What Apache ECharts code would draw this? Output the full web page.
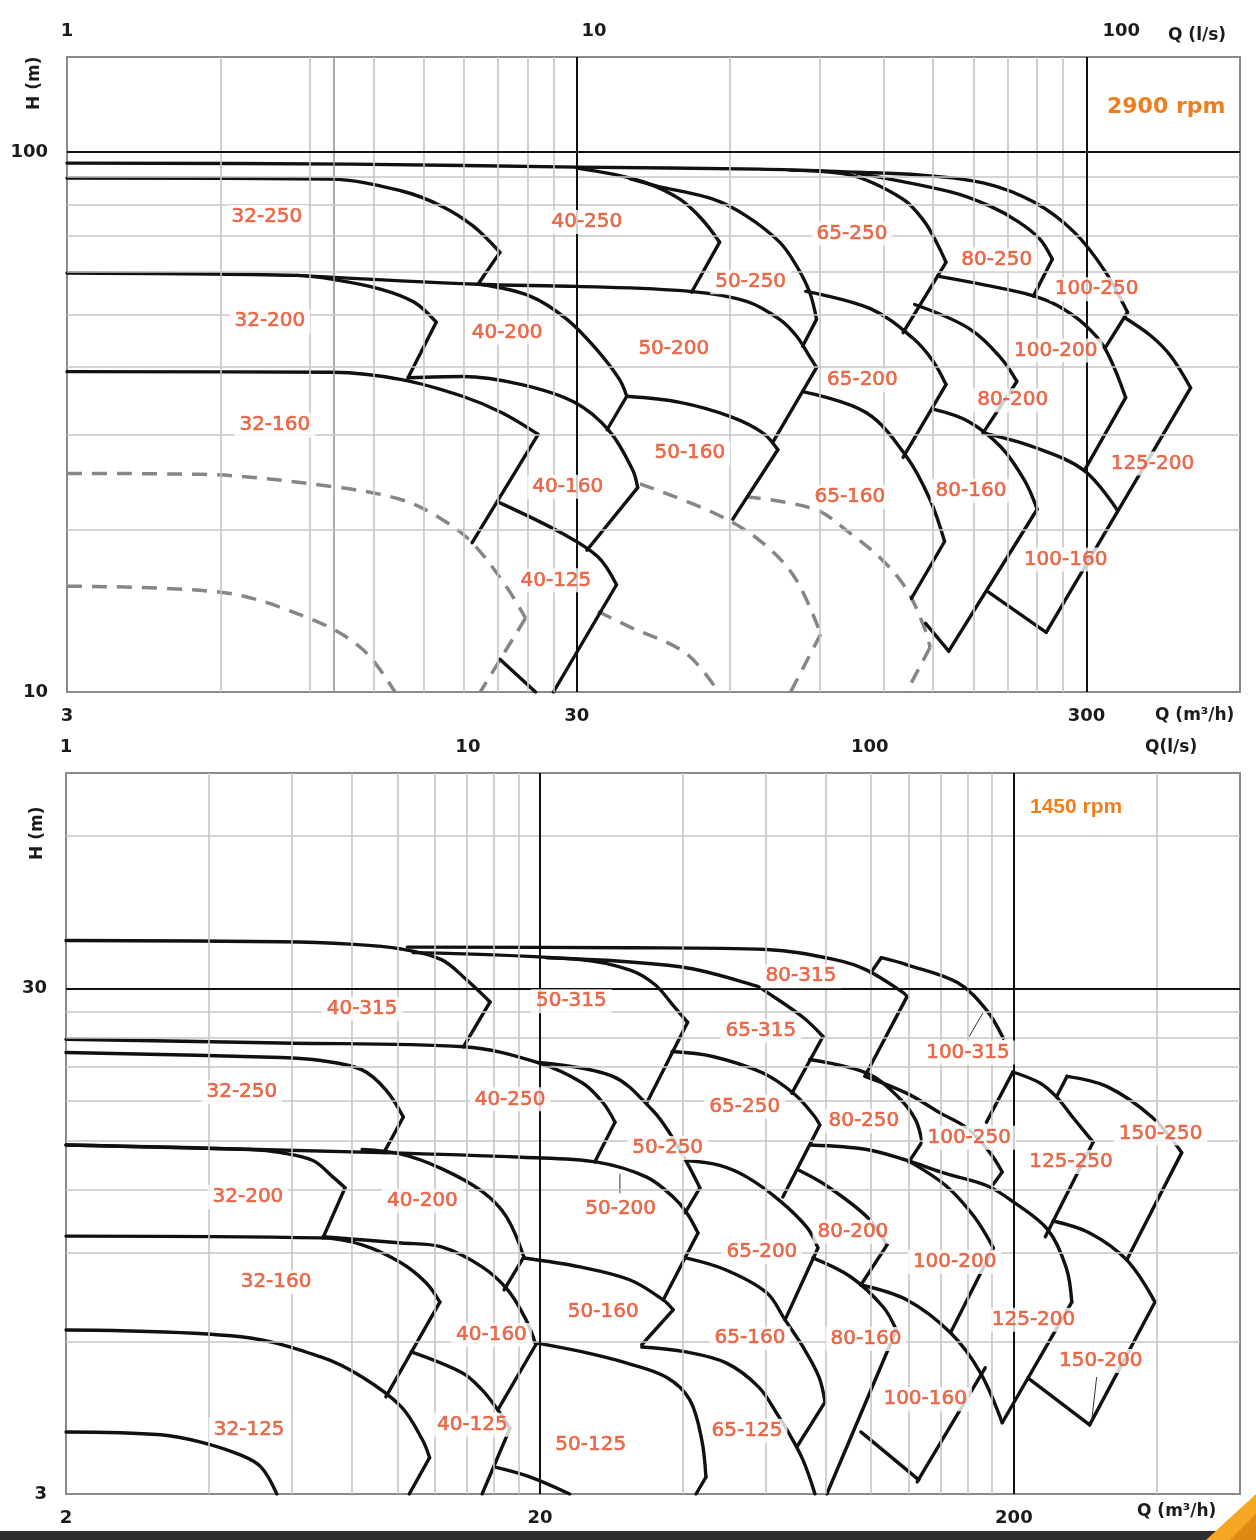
<!DOCTYPE html>
<html><head><meta charset="utf-8">
<script src="https://cdn.jsdelivr.net/npm/echarts@6/dist/echarts.min.js"></script>
<style>html,body{margin:0;padding:0;background:#fff}#c{width:1256px;height:1540px}</style>
</head><body><div id="c"></div>
<script>
// ===== Axis ticks / gridlines =====
const topGridQ = [6, 9, 10, 12, 15, 18, 21, 24, 27, 60, 90, 120, 150, 180, 210, 240, 270];
const topMajorQ = [30, 300];
const topGridH = [20, 30, 40, 50, 60, 70, 80, 90];
const topMajorH = [100];
const botGridQ = [4, 6, 8, 10, 12, 14, 16, 18, 40, 60, 80, 100, 120, 140, 160, 180, 400];
const botMajorQ = [20, 200];
const botGridH = [6, 9, 12, 15, 18, 21, 24, 27, 60];
const botMajorH = [30];

// ===== TOP PANEL (2900 rpm) curves [Q m3/h, H m] =====
const t_100_250 = [[3,95.4],[10.8,95.0],[30,93.8],[68.5,93.0],[106,91.8],[141,90.7],[189,87.6],[237,80.7],[284,71.0],[326,60.2],[361,50.5]];
const t_32_250 = [[3,89.5],[9.84,89.1],[13.6,84.7],[16.3,79.4],[18.8,72.9],[21.2,65.2]];
const t_40_250 = [[30,93.4],[35.3,91.0],[41.2,87.6],[47.8,81.8],[52.8,75.1],[57.2,68.1]];
const t_50_250 = [[38.1,89.3],[43.1,86.5],[55.5,81.8],[64.6,76.1],[75.0,68.1],[81.0,61.5],[85.9,55.0],[88.6,49.0]];
const t_65_250 = [[78.5,92.6],[103,90.7],[131,81.8],[144,74.5],[153,67.5],[159,62.5]];
const t_80_250 = [[106,91.4],[163,84.3],[194,79.4],[221,74.2],[243,69.0],[257,63.3]];
const t_32_200 = [[3,59.7],[8.47,59.1],[9.97,58.1],[12.4,55.7],[14.4,52.7],[15.9,48.4]];
const t_50_200 = [[8.47,59.1],[19.2,56.9],[30,56.4],[50.0,55.2],[64.6,52.9],[75.0,49.0],[81.0,45.6],[85.9,41.8],[88.6,39.9]];
const t_40_200 = [[19.4,56.9],[24.3,54.1],[28.7,49.0],[32.8,43.1],[36.4,37.9],[37.6,35.3]];
const t_65_200 = [[84.4,55.2],[113,51.3],[137,45.2],[150,41.0],[159,37.1]];
const t_80_200 = [[138,52.2],[176,47.2],[204,41.5],[219,37.6]];
const t_100_200 = [[153,58.9],[190,56.7],[234,54.3],[263,52.0],[297,48.0],[326,43.3],[358,35.1]];
const t_125_200 = [[356,49.4],[401,45.7],[438,42.0],[480,36.6]];
const t_32_160 = [[3,39.2],[9.97,39.1],[13.6,37.9],[17.9,35.3],[21.4,32.9],[25.2,30.0]];
const t_40_160 = [[14.0,38.2],[17.9,38.4],[23.4,37.1],[29.7,34.4],[34.8,30.4],[38.6,25.8],[39.5,23.9]];
const t_50_160 = [[37.6,35.3],[47.8,34.4],[59.9,32.4],[69.5,30.2],[74.4,28.1]];
const t_65_160 = [[83.2,36.0],[111,32.9],[133,27.3],[148,22.7],[158,19.0]];
const t_80_160 = [[150,33.4],[176,31.7],[204,28.4],[227,24.6],[240,21.8]];
const t_100_160 = [[188,30.2],[237,28.4],[297,25.7],[345,21.7]];
const t_40_125 = [[21.2,22.4],[28.0,19.7],[33.0,17.8],[35.9,15.8]];
const t_edges = [
  [[361,50.5],[326,43.3]], [[21.2,65.2],[19.2,56.9]], [[57.2,68.1],[50.4,55.0]],
  [[88.6,49.0],[83.2,43.7]], [[159,62.5],[131,46.3]], [[257,63.3],[236,54.1]],
  [[15.9,48.4],[14.0,38.2]], [[88.6,39.9],[72.7,29.0]], [[37.6,35.3],[34.4,30.6]],
  [[159,37.1],[131,27.2]], [[219,37.6],[188,30.2]], [[358,35.1],[297,25.7]],
  [[480,36.6],[250,12.9]], [[25.2,30.0],[18.7,18.9]], [[39.5,23.9],[31.4,18.3]],
  [[74.4,28.1],[60.7,20.9]], [[158,19.0],[136,14.9]], [[240,21.8],[161,11.9]],
  [[145,13.4],[161,11.9]], [[193,15.3],[250,12.9]], [[35.9,15.8],[27.0,10]],
  [[21.2,11.5],[24.9,10]]
];
const t_dash1 = [[3,25.4],[5.49,25.3],[9.97,24.0],[13.6,22.7],[16.3,20.9],[18.7,18.9],[21.8,15.7],[23.8,13.7]];
const t_dash2 = [[3,15.7],[6.01,15.3],[9.11,13.6],[11.4,12.0],[13.2,10]];
const t_dash3 = [[33.0,14.1],[38.1,13.2],[49.1,11.8],[56.9,10]];
const t_dash4 = [[39.9,24.3],[55.5,21.5],[68.5,19.1],[80.3,16.3],[90.3,12.8]];
const t_dash5 = [[64.4,23.0],[87.9,21.8],[103,19.7],[119,17.6],[133,15.5],[144,13.2],[148,12.1]];
const t_dashEdges = [[[23.8,13.7],[19.4,10]], [[90.3,12.8],[78.8,10]], [[148,12.1],[133,10]]];
const topLabels = [
  ['32-250',7.40,75.8],['40-250',31.4,74.2],['65-250',104,70.7],['80-250',200,63.3],['50-250',65.8,57.4],['100-250',314,55.7],
  ['32-200',7.5,48.6],['40-200',21.9,46.3],['50-200',46.5,43.3],['100-200',261,42.9],['65-200',109,37.8],['80-200',215,34.7],
  ['32-160',7.67,31.2],['50-160',50.0,27.7],['125-200',404,26.5],['40-160',28.8,24.0],['65-160',103,23.0],['80-160',178,23.6],
  ['100-160',273,17.6],['40-125',27.3,16.1]
];

// ===== BOTTOM PANEL (1450 rpm) curves [Q m3/h, H m] =====
const b_40_315 = [[2,37.3],[5.68,37.1],[7.95,36.7],[10.2,35.9],[12.4,34.2],[14.0,31.2],[15.7,28.2]];
const b_80_315 = [[10.5,36.2],[31.0,36.1],[60.2,35.8],[83.8,34.2],[97.9,32.6],[117,29.4],[119,28.9]];
const b_50_315 = [[10.8,35.3],[24.3,34.2],[31.0,32.6],[35.0,30.5],[38.4,27.6],[41.0,25.7]];
const b_65_315 = [[20.7,34.5],[39.5,33.1],[57.4,30.3],[60.2,29.5],[71.8,26.3],[79.1,24.1]];
const b_100_315 = [[105,34.5],[119,33.4],[152,30.8],[175,27.2],[190,23.9]];
const b_32_250 = [[2,22.4],[5.68,21.9],[6.90,21.6],[8.43,20.7],[9.46,18.9],[10.3,16.7]];
const b_40_250 = [[2,23.8],[5.68,23.4],[13.8,23.0],[19.8,21.4],[24.6,19.5],[27.2,17.8],[28.8,16.3]];
const b_50_250 = [[19.8,21.4],[28.5,20.1],[34.6,17.2],[37.6,15.5],[40.8,13.6],[43.5,12.1]];
const b_65_250 = [[38.0,22.5],[46.3,22.0],[59.1,20.4],[69.0,18.5],[76.1,16.7],[77.9,16.1]];
const b_80_250 = [[74.2,21.7],[97.9,20.4],[114,18.3],[124,16.5],[128,14.9]];
const b_100_250 = [[97.0,20.1],[119,18.6],[140,17.0],[159,15.9],[178,14.2],[189,13.0]];
const b_125_250 = [[199,20.5],[227,19.5],[246,18.3],[266,16.7],[294,14.9]];
const b_150_250 = [[259,20.1],[314,19.2],[391,16.7],[452,14.2]];
const b_32_200 = [[2,14.7],[4.89,14.4],[5.68,14.2],[6.64,13.7],[7.32,12.7],[7.76,12.1]];
const b_50_200 = [[2,14.7],[9.28,14.2],[18.3,13.9],[26.4,13.6],[33.6,12.7],[38.2,11.6],[40.8,10.8],[43.1,9.85]];
const b_40_200 = [[8.43,14.4],[10.2,14.1],[12.4,13.2],[15.1,11.9],[17.0,10.6],[18.5,8.83]];
const b_65_200 = [[40.8,13.7],[47.9,13.4],[54.7,12.7],[64.2,11.4],[73.2,10.1],[77.2,9.20]];
const b_80_200 = [[70.4,13.1],[80.6,12.2],[97.9,10.6],[108,9.33]];
const b_100_200 = [[121,13.6],[144,12.2],[165,10.6],[181,9.20]];
const b_125_200 = [[74.6,14.7],[97.9,14.4],[119,13.7],[144,12.9],[176,12.2],[198,11.4],[236,9.99],[258,8.4],[265,7.19]];
const b_150_200 = [[242,10.4],[289,9.85],[346,8.71],[397,7.19]];
const b_32_160 = [[2,9.71],[6.90,9.63],[8.43,9.33],[10.2,8.59],[11.5,7.85],[12.3,7.19]];
const b_40_160 = [[6.97,9.68],[10.2,9.41],[12.4,9.24],[15.1,8.44],[17.1,7.60],[18.7,6.63],[19.6,5.92]];
const b_50_160 = [[18.5,8.79],[24.3,8.44],[31.0,7.95],[36.4,7.26],[38.2,6.94]];
const b_65_160 = [[40.6,8.79],[49.4,8.32],[60.2,7.50],[65.8,6.63],[71.8,5.86],[77.6,5.11],[79.9,4.56]];
const b_80_160 = [[75.3,8.79],[90.6,8.06],[106,7.03],[113,6.33]];
const b_100_160 = [[95.1,7.77],[119,7.26],[147,6.25],[170,5.21],[189,4.15]];
const b_32_125 = [[2,6.33],[4.68,6.14],[6.90,5.60],[8.43,5.11],[10.2,4.46],[11.3,3.84],[11.7,3.54]];
const b_40_125 = [[10.7,5.73],[13.7,5.21],[15.1,4.82],[16.3,4.40],[17.3,4.05]];
const b_50_125 = [[19.6,5.97],[24.6,5.73],[30.4,5.45],[36.9,5.11],[41.4,4.61],[43.9,3.84],[44.8,3.24]];
const b_65_125 = [[32.8,5.86],[40.6,5.73],[49.4,5.45],[57.9,4.88],[63.9,4.26],[66.4,4.02],[71.8,3.50],[76.1,3.0]];
const b_32_100 = [[2,3.98],[3.17,3.93],[3.85,3.80],[4.68,3.58],[5.16,3.39],[5.57,3.0]];
const b_40_100 = [[16.1,3.39],[19.1,3.24],[23.1,3.0]];
const b_edges = [
  [[15.7,28.2],[13.8,23.0]], [[119,28.9],[97.0,20.1]], [[41.0,25.7],[33.6,17.8]],
  [[79.1,24.1],[68.0,18.6]], [[99.8,32.2],[105,34.5]], [[10.3,16.7],[9.37,14.2]],
  [[28.8,16.3],[26.1,13.6]], [[43.5,12.1],[40.5,10.8]], [[77.9,16.1],[65.1,11.6]],
  [[128,14.9],[120,13.6]], [[189,13.0],[181,12.3]], [[175,16.3],[199,20.5]],
  [[294,14.9],[233,9.68]], [[246,18.3],[259,20.1]], [[452,14.2],[346,8.71]],
  [[7.76,12.1],[6.97,9.63]], [[43.1,9.85],[36.4,7.26]], [[18.5,8.83],[16.8,7.60]],
  [[77.2,9.20],[65.8,6.63]], [[108,9.33],[95.1,7.77]], [[181,9.20],[147,6.25]],
  [[265,7.19],[189,4.15]], [[397,7.19],[289,4.11]], [[214,5.09],[289,4.11]],
  [[12.3,7.19],[9.46,4.67]], [[19.6,5.92],[16.3,4.40]], [[38.2,6.94],[32.8,5.92]],
  [[79.9,4.56],[69.7,3.72]], [[113,6.33],[80.6,3.0]], [[174,5.33],[125,3.17]],
  [[95.1,3.98],[126,3.20]], [[11.7,3.54],[10.6,3.0]], [[17.3,4.05],[15.1,3.0]],
  [[44.8,3.24],[42.7,3.0]]
];
const b_leaders = [[[172,26.8],[161,24.1]], [[29.5,12.9],[29.5,11.8]], [[299,5.11],[292,4.20]]];
const botLabels = [
  ['40-315',8.43,27.3],['50-315',23.3,28.3],['80-315',71.1,31.7],['65-315',58.5,24.7],['100-315',160,22.4],
  ['32-250',4.70,18.7],['40-250',17.3,18.1],['65-250',54.1,17.5],['80-250',96.5,16.4],['100-250',161,15.2],
  ['150-250',408,15.5],['125-250',264,13.6],['50-250',37.2,14.5],
  ['32-200',4.84,11.6],['40-200',11.3,11.4],['50-200',29.6,11.0],['80-200',91.5,9.90],['65-200',58.8,9.03],['100-200',150,8.63],
  ['32-160',5.55,7.88],['50-160',27.2,6.87],['125-200',220,6.63],['40-160',15.8,6.19],['65-160',55.5,6.10],['80-160',97.5,6.08],
  ['150-200',305,5.50],['100-160',130,4.62],
  ['32-125',4.87,4.02],['40-125',14.4,4.11],['65-125',54.7,4.0],['50-125',25.6,3.75]
];

// ===== build =====
const topCurves = [t_100_250,t_32_250,t_40_250,t_50_250,t_65_250,t_80_250,t_32_200,t_50_200,t_40_200,t_65_200,t_80_200,t_100_200,t_125_200,t_32_160,t_40_160,t_50_160,t_65_160,t_80_160,t_100_160,t_40_125];
const topDashed = [t_dash1,t_dash2,t_dash3,t_dash4,t_dash5];
const botCurves = [b_40_315,b_80_315,b_50_315,b_65_315,b_100_315,b_32_250,b_40_250,b_50_250,b_65_250,b_80_250,b_100_250,b_125_250,b_150_250,b_32_200,b_50_200,b_40_200,b_65_200,b_80_200,b_100_200,b_125_200,b_150_200,b_32_160,b_40_160,b_50_160,b_65_160,b_80_160,b_100_160,b_32_125,b_40_125,b_50_125,b_65_125,b_32_100,b_40_100];

const INK = '#111111';
const LW = 3.4;
const LABEL_COLOR = '#e34b24';
function curve(d, xi, yi) { return {type:'line', xAxisIndex:xi, yAxisIndex:yi, data:d, smooth:0.35, symbol:'none', silent:true, z:3, lineStyle:{color:INK, width:LW, cap:'round', join:'round'}}; }
function edge(d, xi, yi) { return {type:'line', xAxisIndex:xi, yAxisIndex:yi, data:d, symbol:'none', silent:true, z:3, lineStyle:{color:INK, width:LW, cap:'round'}}; }
function dashed(d, xi, yi) { return {type:'line', xAxisIndex:xi, yAxisIndex:yi, data:d, smooth:0.35, symbol:'none', silent:true, z:2, lineStyle:{color:'#8a8585', width:3.5, type:[15,10]}}; }
function thin(d, xi, yi) { return {type:'line', xAxisIndex:xi, yAxisIndex:yi, data:d, symbol:'none', silent:true, z:3, lineStyle:{color:'#333', width:1}}; }
function gridSeries(xi, yi, gq, mq, gh, mh, darkQ) {
  const light = {color:'#c9c4c4', width:1.6, type:'solid'};
  const dark = {color:'#111', width:2, type:'solid'};
  const data = []
    .concat(gq.map(v => ({xAxis:v, lineStyle:(darkQ && darkQ.indexOf(v) >= 0) ? {color:'#9b9696', width:1.6, type:'solid'} : light})))
    .concat(gh.map(v => ({yAxis:v, lineStyle:light})))
    .concat(mq.map(v => ({xAxis:v, lineStyle:dark})))
    .concat(mh.map(v => ({yAxis:v, lineStyle:dark})));
  return {type:'line', xAxisIndex:xi, yAxisIndex:yi, data:[], z:1, silent:true,
    markLine:{symbol:'none', silent:true, animation:false, label:{show:false}, data:data}};
}
function labels(list, xi, yi) {
  return {type:'scatter', xAxisIndex:xi, yAxisIndex:yi, symbolSize:0.1, z:10, silent:true,
    itemStyle:{color:'rgba(0,0,0,0)'},
    data:list.map(l => ({name:l[0], value:[l[1], l[2]]})),
    label:{show:true, position:'inside', formatter:'{b}', color:LABEL_COLOR, fontSize:20,
      fontFamily:'DejaVu Sans', textBorderColor:LABEL_COLOR, textBorderWidth:0.6,
      backgroundColor:'#ffffff', padding:[2,5]}};
}

const series = [];
series.push(gridSeries(0, 0, topGridQ, topMajorQ, topGridH, topMajorH, [10]));
series.push(gridSeries(3, 1, botGridQ, botMajorQ, botGridH, botMajorH));
topDashed.forEach(d => series.push(dashed(d, 0, 0)));
t_dashEdges.forEach(d => series.push(Object.assign(dashed(d, 0, 0), {smooth:false})));
topCurves.forEach(d => series.push(curve(d, 0, 0)));
t_edges.forEach(d => series.push(edge(d, 0, 0)));
botCurves.forEach(d => series.push(curve(d, 3, 1)));
b_edges.forEach(d => series.push(edge(d, 3, 1)));
b_leaders.forEach(d => series.push(thin(d, 3, 1)));
series.push(labels(topLabels, 0, 0));
series.push(labels(botLabels, 3, 1));

const axFont = {color:'#1b1b1b', fontWeight:'bold', fontSize:18, fontFamily:'DejaVu Sans'};
function hiddenLog(gi, min, max, pos) { return {type:'log', gridIndex:gi, min:min, max:max, position:pos, show:false}; }
function labelLog(gi, min, max, pos, mult, margin) {
  return {type:'log', gridIndex:gi, min:min, max:max, position:pos,
    axisLine:{show:false}, axisTick:{show:false}, splitLine:{show:false},
    axisLabel:Object.assign({margin:margin, showMaxLabel:false, formatter:v => String(Math.round(v*mult))}, axFont)};
}
const titleFont = 'bold 17px "DejaVu Sans"';

const chart = echarts.init(document.getElementById('c'), null, {renderer:'canvas'});
chart.setOption({
  animation:false,
  backgroundColor:'#ffffff',
  grid:[
    {left:67, top:57, width:1173, height:635, show:true, borderColor:'#8e8989', borderWidth:2, backgroundColor:'#fff'},
    {left:66, top:773, width:1174, height:721, show:true, borderColor:'#8e8989', borderWidth:2, backgroundColor:'#fff'}
  ],
  xAxis:[
    hiddenLog(0, 3, 600, 'bottom'),
    labelLog(0, 1, 200, 'bottom', 3, 15),
    labelLog(0, 1, 168, 'top', 1, 17),
    hiddenLog(1, 2, 600, 'bottom'),
    labelLog(1, 1, 300, 'bottom', 2, 15),
    labelLog(1, 1, 834, 'top', 1, 17)
  ],
  yAxis:[
    labelLog(0, 10, 150, 'left', 1, 19),
    hiddenLog(1, 3, 80, 'left'),
    labelLog(1, 1, 80/3, 'left', 3, 19)
  ],
  graphic:[
    {type:'text', left:1168, top:27, style:{text:'Q (l/s)', font:titleFont, fill:'#1b1b1b'}},
    {type:'text', left:1155, top:707, style:{text:'Q (m³/h)', font:titleFont, fill:'#1b1b1b'}},
    {type:'text', x:26, y:110, rotation:Math.PI/2, style:{text:'H (m)', font:titleFont, fill:'#1b1b1b'}},
    {type:'text', left:1107, top:96, style:{text:'2900 rpm', font:'bold 22px "DejaVu Sans"', fill:'#f07e1e', shadowColor:'#ffd23a', shadowBlur:6}},
    {type:'text', left:1145, top:739, style:{text:'Q(l/s)', font:titleFont, fill:'#1b1b1b'}},
    {type:'text', left:1137, top:1503, style:{text:'Q (m³/h)', font:titleFont, fill:'#1b1b1b'}},
    {type:'text', x:29, y:860, rotation:Math.PI/2, style:{text:'H (m)', font:titleFont, fill:'#1b1b1b'}},
    {type:'text', left:1030, top:797, style:{text:'1450 rpm', font:'bold 21px "Liberation Sans Narrow", "Liberation Sans", sans-serif', fill:'#f07e1e', shadowColor:'#ffd23a', shadowBlur:6}},
    {type:'rect', left:0, top:1531, shape:{width:1256, height:9}, style:{fill:'#2e2e2e'}},
    {type:'polygon', shape:{points:[[1256,1494],[1256,1540],[1206,1540]]}, style:{fill:'#f5a623'}},
    {type:'polygon', shape:{points:[[1256,1514],[1256,1540],[1230,1540]]}, style:{fill:'#e08912'}}
  ],
  series:series
});
</script></body></html>
